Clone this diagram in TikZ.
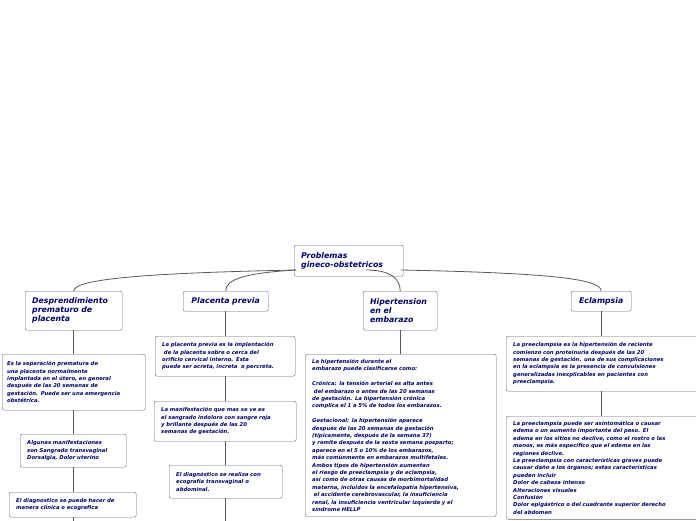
\documentclass[tikz,border=0pt]{standalone}
\usepackage{fontspec}
\setmainfont{DejaVu Sans}
\usepackage{tikz}
\usetikzlibrary{positioning}

\begin{document}
\begin{tikzpicture}[x=1pt,y=-1pt,
	box/.style={draw=black!60, fill=white, rounded corners=2pt, anchor=north west, inner xsep=7pt, inner ysep=3pt, align=left,
		text=blue!45!black, font=\fontsize{5.3}{7.4}\selectfont\bfseries\itshape},
	head/.style={box, font=\fontsize{7.8}{9}\selectfont\bfseries\itshape},
	link/.style={draw=black!65, line width=0.8pt}]

	\useasboundingbox (0,0) rectangle (696,520);
	\clip (0,0) rectangle (696,520);

	\coordinate (rl) at (296,270);
	\coordinate (rr) at (401,270);

	% main topic and branches
	\node (root) [head, text width=95pt, minimum height=31pt] at (294,245) {Problemas\\gineco-obstetricos};
	\node (desp) [head, text width=83pt, minimum height=39pt] at (25,291) {Desprendimiento\\prematuro de\\placenta};
	\node (prev) [head, text width=71pt, minimum height=20pt, align=center] at (183,291) {Placenta previa};
	\node (hipe) [head, text width=60pt, minimum height=39pt] at (363,291) {Hipertension\\en el\\embarazo};
	\node (ecla) [head, text width=46pt, minimum height=20pt, align=center] at (571,291) {Eclampsia};

	% Desprendimiento
	\node (d1) [box, text width=133pt, inner xsep=5pt, minimum height=56pt] at (2,354) {Es la separación prematura de\\una placenta normalmente\\implantada en el útero, en general\\después de las 20 semanas de\\gestación. Puede ser una emergencia\\obstétrica.};
	\node (d2) [box, text width=92pt, minimum height=33pt] at (20,434) {Algunas manifestaciones\\son Sangrado transvaginal\\Dorsalgia, Dolor uterino};
	\node (d3) [box, text width=113pt, minimum height=25pt] at (9,492) {El diagnostico se puede hacer de\\manera clínica o ecografica};
	\coordinate (d4) at (73,530);

	% Placenta previa
	\node (p1) [box, text width=126pt, minimum height=40pt] at (155,336) {La placenta previa es la implantación\\\ de la placenta sobre o cerca del\\orificio cervical interno. Esta\\puede ser acreta, increta\ \ o percreta.};
	\node (p2) [box, text width=128pt, minimum height=40pt] at (154,401) {La manifestación que mas se ve es\\el sangrado indoloro con sangre roja\\y brillante después de las 20\\semanas de gestación.};
	\node (p3) [box, text width=99pt, minimum height=33pt] at (169,465) {El diagnóstico se realiza con\\ecografía transvaginal o\\abdominal.};
	\coordinate (p4) at (225,530);

	% Hipertension
	\node (h1) [box, text width=177pt, inner ysep=5pt] at (305,354) {La hipertensión durante el\\embarazo puede clasificarse como:\\[7.4pt]Crónica: la tensión arterial es alta antes\\\ del embarazo o antes de las 20 semanas\\de gestación. La hipertensión crónica\\complica el 1 a 5\% de todos los embarazos.\\[7.4pt]Gestacional: la hipertensión aparece\\después de las 20 semanas de gestación\\(típicamente, después de la semana 37)\\y remite después de la sexta semana posparto;\\aparece en el 5 o 10\% de los embarazos,\\más comúnmente en embarazos multifetales.\\Ambos tipos de hipertensión aumentan\\el riesgo de preeclampsia y de eclampsia,\\así como de otras causas de morbimortalidad\\materna, incluidos la encefalopatía hipertensiva,\\\ el accidente cerebrovascular, la insuficiencia\\renal, la insuficiencia ventricular izquierda y el\\síndrome HELLP\\[14pt]};

	% Eclampsia
	\node (e1) [box, text width=182pt, minimum height=55pt] at (506,336) {La preeclampsia es la hipertensión de reciente\\comienzo con proteinuria después de las 20\\semanas de gestación. una de sus complicaciones\\en la eclampsia es la presencia de convulsiones\\generalizadas inexplicables en pacientes con\\preeclampsia.};
	\node (e2) [box, text width=182pt, inner ysep=5pt] at (506,416) {La preeclampsia puede ser asintomática o causar\\edema o un aumento importante del peso. El\\edema en los sitios no declive, como el rostro o las\\manos, es más específico que el edema en las\\regiones declive.\\La preeclampsia con características graves puede\\causar daño a los órganos; estas características\\pueden incluir\\Dolor de cabeza intenso\\Alteraciones visuales\\Confusión\\Dolor epigástrico o del cuadrante superior derecho\\del abdomen\\[14pt]};

	% connectors
	\draw[link] (rl) .. controls +(-150,3) and +(0,-12) .. (desp.north);
	\draw[link] (rl) .. controls +(-50,3) and +(0,-12) .. (prev.north);
	\draw[link] (rr) .. controls +(150,3) and +(0,-12) .. (ecla.north);
	\draw[link] ([xshift=-35pt]rr) .. controls +(25,0) and +(0,-12) .. (hipe.north);
	\path[link]
	(desp.south -| d4) edge (d1.north -| d4)
	(d1.south -| d4) edge (d2.north -| d4)
	(d2.south -| d4) edge (d3.north -| d4)
	(d3.south -| d4) edge (d4)
	(prev.south -| p4) edge (p1.north -| p4)
	(p1.south -| p4) edge (p2.north -| p4)
	(p2.south -| p4) edge (p3.north -| p4)
	(p3.south -| p4) edge (p4)
	(hipe.south) edge (hipe.south |- h1.north)
	(ecla.south) edge (ecla.south |- e1.north)
	(e1.south -| ecla.south) edge (e2.north -| ecla.south);

\end{tikzpicture}
\end{document}
